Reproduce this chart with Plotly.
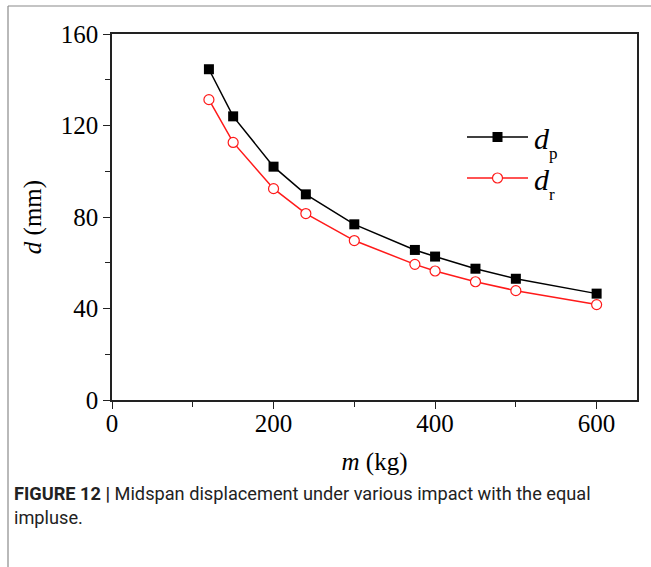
import plotly.graph_objects as go

m_kg = [120, 150, 200, 240, 300, 375, 400, 450, 500, 600]
d_p = [144.6, 124.0, 102.0, 89.9, 76.8, 65.6, 62.7, 57.4, 53.0, 46.5]
d_r = [131.3, 112.6, 92.4, 81.5, 69.7, 59.3, 56.4, 51.7, 47.8, 41.7]

x_ticks = [0, 200, 400, 600]
y_ticks = [0, 40, 80, 120, 160]

W, H = 651, 567
L, R, T, B = 112, 14, 34, 167
pw, ph = W - L - R, H - T - B

def px(x):
    return (x - L) / pw

def py(y):
    return (H - B - y) / ph

fig = go.Figure()
fig.add_trace(go.Scatter(x=m_kg, y=d_p, mode="lines+markers",
                         line=dict(color="black", width=1.5),
                         marker=dict(symbol="square", size=10, color="black"),
                         showlegend=False))
fig.add_trace(go.Scatter(x=m_kg, y=d_r, mode="lines+markers",
                         line=dict(color="#ff1a1a", width=1.5),
                         marker=dict(symbol="circle", size=10, color="white",
                                     line=dict(color="#ff1a1a", width=1.2)),
                         showlegend=False))

serif = "Liberation Serif, Times New Roman, serif"
axis_common = dict(showline=True, linecolor="#222", linewidth=1.5, mirror=True,
                   ticks="outside", ticklen=7, tickwidth=1.3, tickcolor="#222",
                   showgrid=False, zeroline=False,
                   tickfont=dict(family=serif, size=25, color="black"))
fig.update_xaxes(range=[0, 650], tickvals=x_ticks, ticklabelstandoff=-7,
                 minor=dict(dtick=100, tick0=0, ticks="outside", ticklen=5, tickcolor="#222", tickwidth=1.2),
                 title=dict(text="<i>m</i> (kg)", font=dict(family=serif, size=25, color="black"), standoff=17),
                 **axis_common)
fig.update_yaxes(range=[0, 160], tickvals=y_ticks,
                 minor=dict(dtick=20, tick0=0, ticks="outside", ticklen=5, tickcolor="#222", tickwidth=1.2),
                 title=dict(text="<i>d</i> (mm)", font=dict(family=serif, size=25, color="black"), standoff=12),
                 **axis_common)

shapes = []
# outer gray frame (left and top)
shapes.append(dict(type="line", xref="paper", yref="paper", x0=px(8), x1=px(8), y0=py(6), y1=py(H + 5),
                   line=dict(color="#8a8a8a", width=1.2)))
shapes.append(dict(type="line", xref="paper", yref="paper", x0=px(8), x1=px(W + 5), y0=py(6), y1=py(6),
                   line=dict(color="#8a8a8a", width=1.2)))
# legend
leg = [("black", 137, "p"), ("#ff1a1a", 178, "r")]
for color, yy, sub in leg:
    shapes.append(dict(type="line", xref="paper", yref="paper", x0=px(467), x1=px(528), y0=py(yy), y1=py(yy),
                       line=dict(color=color, width=1.5)))
shapes.append(dict(type="rect", xref="paper", yref="paper", xsizemode="pixel", ysizemode="pixel",
                   xanchor=px(497.5), yanchor=py(137), x0=-5, x1=5, y0=-5, y1=5,
                   fillcolor="black", line=dict(width=0)))
shapes.append(dict(type="circle", xref="paper", yref="paper", xsizemode="pixel", ysizemode="pixel",
                   xanchor=px(497.5), yanchor=py(178), x0=-5, x1=5, y0=-5, y1=5,
                   fillcolor="white", line=dict(color="#ff1a1a", width=1.2)))

annotations = []
for color, yy, sub in leg:
    annotations.append(dict(xref="paper", yref="paper", x=px(532), y=py(yy + 1), xanchor="left", yanchor="middle",
                            showarrow=False, text="<i>d</i>",
                            font=dict(family=serif, size=30, color="black")))
    annotations.append(dict(xref="paper", yref="paper", x=px(547), y=py(yy + 16), xanchor="left", yanchor="middle",
                            showarrow=False, text=sub,
                            font=dict(family=serif, size=17, color="black")))
annotations.append(dict(xref="paper", yref="paper", x=px(12), y=py(481), xanchor="left", yanchor="top",
                        align="left", showarrow=False,
                        text="<b>FIGURE 12 |</b> Midspan displacement under various impact with the equal<br>impluse.",
                        font=dict(family="Roboto, Liberation Sans, sans-serif", size=18.2, color="#222")))

fig.update_layout(width=W, height=H, margin=dict(l=L, r=R, t=T, b=B),
                  paper_bgcolor="white", plot_bgcolor="white",
                  shapes=shapes, annotations=annotations, showlegend=False)
fig.write_html("out.html")
